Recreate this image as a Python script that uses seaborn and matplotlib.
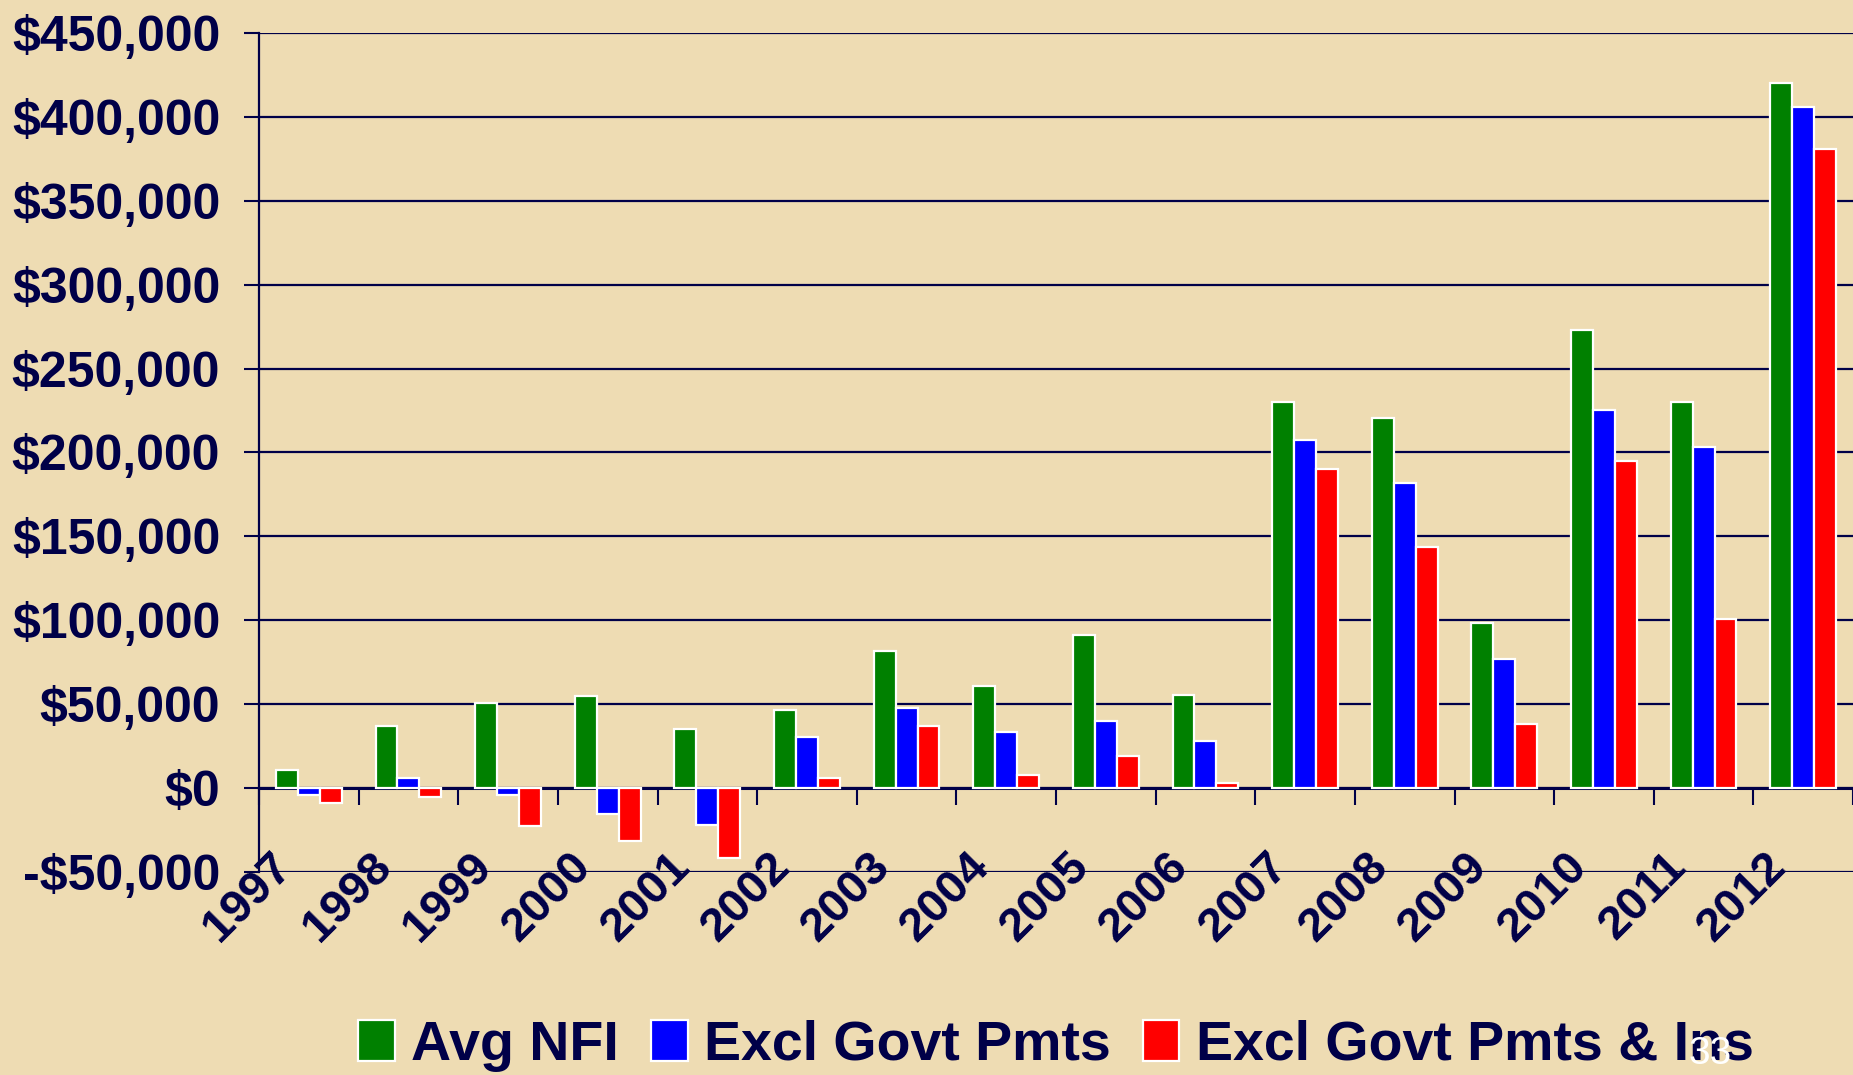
import numpy as np
import pandas as pd
import matplotlib
matplotlib.use("Agg")
import matplotlib.pyplot as plt
import matplotlib.transforms as mtransforms
from matplotlib.ticker import FuncFormatter
import seaborn as sns

# ============================================================
# DATA
# ============================================================

years = [str(y) for y in range(1997, 2013)]

avg_nfi = [11000, 37000, 51000, 55000, 35000, 46500, 82000, 61000,
           91000, 55600, 230000, 220500, 98500, 273000, 230000, 420500]
excl_govt = [-4000, 6000, -4000, -15500, -22000, 30500, 48000, 33600,
             40000, 28200, 207500, 182000, 76800, 225300, 203000, 406000]
excl_govt_ins = [-9000, -5500, -22500, -31500, -41500, 6000, 37000, 7600,
                 19000, 2800, 190000, 143500, 38000, 195000, 100500, 381000]

series_names = ["Avg NFI", "Excl Govt Pmts", "Excl Govt Pmts & Ins"]
series_colors = ["#008000", "#0000FF", "#FF0000"]

y_ticks = list(range(-50000, 450001, 50000))

# ============================================================
# STYLE
# ============================================================

BG = "#EEDCB3"
NAVY = "#000048"

sns.set_style("white")
plt.rcParams["font.family"] = ["Liberation Sans", "DejaVu Sans"]
plt.rcParams["font.weight"] = "bold"

df = pd.DataFrame({
    "year": years * 3,
    "value": avg_nfi + excl_govt + excl_govt_ins,
    "series": [s for s in series_names for _ in years],
})

fig = plt.figure(figsize=(18.53, 10.75), dpi=100, facecolor=BG)
ax = fig.add_axes([259 / 1853, 1 - 872 / 1075, 1 - 259 / 1853, (872 - 33) / 1075])
ax.set_facecolor(BG)

sns.barplot(
    data=df,
    x="year",
    y="value",
    hue="series",
    hue_order=series_names,
    palette=series_colors,
    width=0.66,
    edgecolor="white",
    linewidth=1.6,
    errorbar=None,
    saturation=1,
    ax=ax,
)

ax.set_xlim(-0.5, len(years) - 0.5)
ax.set_ylim(y_ticks[0], y_ticks[-1])
ax.set_xlabel("")
ax.set_ylabel("")

# y axis
ax.set_yticks(y_ticks)
ax.yaxis.set_major_formatter(FuncFormatter(
    lambda v, p: f"-${abs(v):,.0f}" if v < 0 else f"${v:,.0f}"))
ax.tick_params(axis="y", length=11, width=1.5, color=NAVY, pad=17,
               labelsize=36, labelcolor=NAVY, left=True)
ax.yaxis.grid(True, color=NAVY, linewidth=1.6)
ax.set_axisbelow(True)

for side in ["top", "right", "bottom"]:
    ax.spines[side].set_visible(False)
ax.spines["left"].set_color(NAVY)
ax.spines["left"].set_linewidth(1.6)

# x axis labels at the bottom, rotated
ax.tick_params(axis="x", length=0, pad=-20, labelsize=34, labelcolor=NAVY)
offset = mtransforms.ScaledTranslation(-0.08, 0, fig.dpi_scale_trans)
for lab in ax.get_xticklabels():
    lab.set_rotation(45)
    lab.set_ha("right")
    lab.set_va("top")
    lab.set_fontweight("bold")
    lab.set_transform(lab.get_transform() + offset)
for lab in ax.get_yticklabels():
    lab.set_fontweight("bold")

# zero line with category dividers
zero_frac = (0 - y_ticks[0]) / (y_ticks[-1] - y_ticks[0])
sec = ax.secondary_xaxis(zero_frac)
sec.set_xticks(np.arange(len(years) + 1) - 0.5)
sec.tick_params(axis="x", length=12.5, width=1.5, color=NAVY, labelbottom=False)
sec.spines["bottom"].set_color(NAVY)
sec.spines["bottom"].set_linewidth(2.2)

# legend
leg = ax.legend(
    loc="center",
    bbox_to_anchor=(0.5, -0.207),
    ncol=3,
    frameon=False,
    prop={"size": 40, "weight": "bold"},
    handlelength=0.66,
    handleheight=0.76,
    handletextpad=0.3,
    columnspacing=0.57,
)
for t in leg.get_texts():
    t.set_color(NAVY)
for h in leg.legend_handles:
    h.set_edgecolor("white")
    h.set_linewidth(1.6)

# slide number
fig.text(1710 / 1853, 1 - 1054 / 1075, "33", color="white", fontsize=28,
         fontweight="normal", ha="center", va="center")

fig.savefig("out.png", dpi=100, facecolor=BG)
